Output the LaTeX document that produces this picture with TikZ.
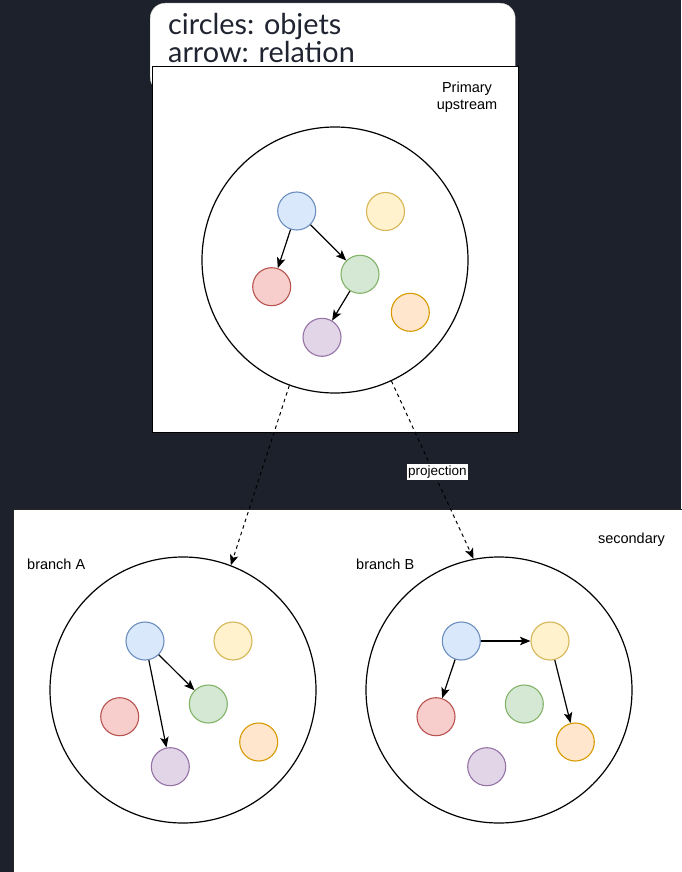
\documentclass[tikz,border=0pt]{standalone}
\usepackage{fontspec}
\setmainfont{Liberation Sans}
\newfontfamily\latofont{Lato}
\usetikzlibrary{arrows.meta}
\definecolor{bgdark}{HTML}{1C212C}
\definecolor{cardtext}{HTML}{1F2430}
\definecolor{bluefill}{HTML}{DAE8FC}\definecolor{bluedraw}{HTML}{6C8EBF}
\definecolor{yelfill}{HTML}{FFF2CC}\definecolor{yeldraw}{HTML}{D6B656}
\definecolor{redfill}{HTML}{F8CECC}\definecolor{reddraw}{HTML}{B85450}
\definecolor{grnfill}{HTML}{D5E8D4}\definecolor{grndraw}{HTML}{82B366}
\definecolor{orgfill}{HTML}{FFE6CC}\definecolor{orgdraw}{HTML}{D79B00}
\definecolor{purfill}{HTML}{E1D5E7}\definecolor{purdraw}{HTML}{9673A6}
\tikzset{
  bigc/.style={circle, draw=black, line width=1.2pt, fill=white, minimum size=266pt, inner sep=0pt},
  obj/.style={circle, line width=1.1pt, minimum size=38pt, inner sep=0pt},
  oblue/.style={obj, fill=bluefill, draw=bluedraw},
  oyel/.style={obj, fill=yelfill, draw=yeldraw},
  ored/.style={obj, fill=redfill, draw=reddraw},
  ogrn/.style={obj, fill=grnfill, draw=grndraw},
  oorg/.style={obj, fill=orgfill, draw=orgdraw},
  opur/.style={obj, fill=purfill, draw=purdraw},
  rel/.style={-{Stealth[length=10.5pt,width=8.5pt,inset=2.5pt]}, line width=1.2pt, black},
  proj/.style={-{Stealth[length=10.5pt,width=8.5pt,inset=2.5pt]}, line width=1pt, black, dash pattern=on 3.5pt off 3.5pt},
  lbl/.style={font=\fontsize{14.5}{17}\selectfont, text=black, inner sep=0pt, align=center},
  cardlbl/.style={font=\latofont\fontsize{28.8}{29}\selectfont, text=cardtext, inner sep=0pt, anchor=base west}
}
\begin{document}
\begin{tikzpicture}[x=1pt,y=-1pt]
\useasboundingbox (0,0) rectangle (681,872);
\fill[bgdark] (0,0) rectangle (681,872);

% legend card
\node[draw=gray!40, fill=white, rounded corners=15pt, minimum width=365pt, minimum height=89pt, anchor=north west, inner sep=0pt] (card) at (150,3) {};
\node[cardlbl] (l1) at (168,35) {circles: objets};
\node[cardlbl] (l2) at (168,63) {arrow: relation};

% primary box
\node[draw=black, line width=1pt, fill=white, minimum width=366pt, minimum height=365pt, anchor=north west, inner sep=0pt] (pbox) at (151.5,66.5) {};
\node[lbl] (ptitle) at (467,97.5) {Primary\\upstream};

\node[bigc] (P) at (335,260) {};
\node[oblue] (pb) at (296.7,211) {};
\node[oyel]  (py) at (385.5,211.5) {};
\node[ored]  (pr) at (271.7,286.7) {};
\node[ogrn]  (pg) at (360,274.3) {};
\node[oorg]  (po) at (410.3,312.3) {};
\node[opur]  (pp) at (322,337.3) {};
\draw[rel] (pb) -- (pr);
\draw[rel] (pb) -- (pg);
\draw[rel] (pg) -- (pp);

% secondary box
\node[draw=black!85, line width=1pt, fill=white, minimum width=680pt, minimum height=370pt, anchor=north west, inner sep=0pt] (sbox) at (12.5,508.5) {};
\node[lbl] (stitle) at (631.5,540) {secondary};
\node[lbl, anchor=west] (ta) at (27,564) {branch A};
\node[lbl, anchor=west] (tb) at (356,564) {branch B};

\node[bigc] (A) at (183,690) {};
\node[oblue] (ab) at (145,641) {};
\node[oyel]  (ay) at (233,641) {};
\node[ored]  (ar) at (119.7,716.7) {};
\node[ogrn]  (ag) at (208.3,704) {};
\node[oorg]  (ao) at (258.7,742) {};
\node[opur]  (ap) at (170.3,766.7) {};
\draw[rel] (ab) -- (ag);
\draw[rel] (ab) -- (ap);

\node[bigc] (B) at (499,690) {};
\node[oblue] (bb) at (461.3,641) {};
\node[oyel]  (by) at (550,641) {};
\node[ored]  (br) at (436,716.7) {};
\node[ogrn]  (bg) at (524.3,704) {};
\node[oorg]  (bo) at (575.3,742) {};
\node[opur]  (bp) at (486.7,766.7) {};
\draw[rel] (bb) -- (by);
\draw[rel] (bb) -- (br);
\draw[rel] (by) -- (bo);

% projections
\draw[proj] (P.250) -- (A.69);
\draw[proj] (P.295) -- node[pos=0.51, fill=white, inner sep=1.5pt, font=\fontsize{13.5}{15}\selectfont, xshift=4pt] (plbl) {projection} (B.101);
\end{tikzpicture}
\end{document}
